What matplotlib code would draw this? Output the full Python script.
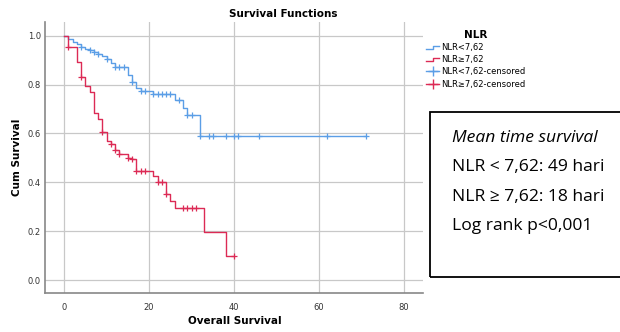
import numpy as np
import matplotlib
matplotlib.use("Agg")
import matplotlib.pyplot as plt
from matplotlib.lines import Line2D
from matplotlib.patches import Rectangle
from matplotlib.legend_handler import HandlerBase

# --- data ---
# NLR < 7,62 : step times and survival after each step
low_t = [0, 1, 2, 3, 4, 5, 6, 7, 8, 9, 10, 11, 12, 15, 16, 17, 18, 21, 26, 28, 29, 32]
low_s = [1.0, 0.985, 0.975, 0.965, 0.955, 0.946, 0.94, 0.933, 0.925, 0.915, 0.905,
         0.89, 0.87, 0.838, 0.81, 0.787, 0.775, 0.76, 0.735, 0.705, 0.675, 0.588]
low_end = 71
low_cens = [4, 6, 7, 8, 10, 12, 13, 14, 16, 18, 19, 21, 22, 23, 24, 25, 27, 29, 30,
            32, 34, 35, 38, 40, 41, 46, 62, 71]

# NLR >= 7,62
high_t = [0, 1, 3, 4, 5, 6, 7, 8, 9, 10, 11, 12, 13, 15, 16, 17, 21, 22, 24, 25, 26, 33, 38]
high_s = [1.0, 0.952, 0.892, 0.832, 0.794, 0.768, 0.682, 0.658, 0.607, 0.569, 0.557,
          0.532, 0.516, 0.50, 0.494, 0.447, 0.426, 0.402, 0.352, 0.323, 0.293, 0.198, 0.098]
high_end = 40
high_cens = [1, 4, 9, 11, 12, 13, 15, 16, 17, 18, 19, 22, 23, 24, 28, 29, 30, 31, 40]

xticks = [0, 20, 40, 60, 80]
yticks = [0.0, 0.2, 0.4, 0.6, 0.8, 1.0]
legend_labels = ["NLR<7,62", "NLR\u22657,62", "NLR<7,62-censored", "NLR\u22657,62-censored"]

BLUE = "#5b9ee6"
RED = "#dc2a55"


def surv_at(times, surv, x):
    # value of the step function right at time x
    idx = np.searchsorted(times, x, side="right") - 1
    return np.array(surv)[idx]


class StepHandler(HandlerBase):
    # little step shaped icon like SPSS uses
    def create_artists(self, legend, orig, xd, yd, w, h, fontsize, trans):
        xs = [xd, xd + w * 0.55, xd + w * 0.55, xd + w]
        ys = [yd + h * 0.25, yd + h * 0.25, yd + h * 0.75, yd + h * 0.75]
        ln = Line2D(xs, ys, color=orig.get_color(), lw=1, transform=trans)
        return [ln]


fig = plt.figure(figsize=(6.2, 3.32), dpi=100)
ax = fig.add_axes([45 / 620, 1 - 293 / 332, (423 - 45) / 620, (293 - 22) / 332])

ax.step(low_t + [low_end], low_s + [low_s[-1]], where="post", color=BLUE, lw=1)
ax.step(high_t + [high_end], high_s + [high_s[-1]], where="post", color=RED, lw=1)
ax.plot(low_cens, surv_at(low_t, low_s, low_cens), "+", color=BLUE, ms=5, mew=0.9)
ax.plot(high_cens, surv_at(high_t, high_s, high_cens), "+", color=RED, ms=5, mew=0.9)

ax.set_xlim(-4.5, 84.5)
ax.set_ylim(-0.053, 1.056)
ax.set_xticks(xticks)
ax.set_yticks(yticks)
ax.set_xticklabels([str(v) for v in xticks])
ax.set_yticklabels([f"{v:.1f}" for v in yticks])
ax.tick_params(length=0, labelsize=6, colors="#333333")
ax.tick_params(axis="x", pad=7)
ax.tick_params(axis="y", pad=3)
ax.grid(True, color="#c8c8c8", lw=0.9)
ax.set_axisbelow(True)
for side in ["top", "right"]:
    ax.spines[side].set_visible(False)
for side in ["left", "bottom"]:
    ax.spines[side].set_color("#888888")
    ax.spines[side].set_linewidth(1.2)

fig.text(283 / 620, 1 - 14 / 332, "Survival Functions", ha="center", va="center",
         fontsize=7.5, fontweight="bold")
fig.text(235 / 620, 1 - 321 / 332, "Overall Survival", ha="center", va="center",
         fontsize=7.5, fontweight="bold")
fig.text(17 / 620, 1 - 157 / 332, "Cum Survival", ha="center", va="center",
         fontsize=7.5, fontweight="bold", rotation=90)

# legend
handles = [Line2D([], [], color=BLUE), Line2D([], [], color=RED),
           Line2D([], [], color=BLUE, marker="+", ms=7, lw=1),
           Line2D([], [], color=RED, marker="+", ms=7, lw=1)]
hmap = {handles[0]: StepHandler(), handles[1]: StepHandler()}
leg = fig.legend(handles, legend_labels, handler_map=hmap, loc="upper left",
                 bbox_to_anchor=(420 / 620, 1 - 24 / 332), frameon=False,
                 fontsize=6, title="NLR", title_fontproperties={"size": 7.5, "weight": "bold"},
                 handlelength=1.6, handletextpad=0.2, labelspacing=0.38, borderpad=0.2)

# info box
fig.patches.append(Rectangle((430 / 620, 1 - 277 / 332), 200 / 620, 165 / 332,
                             transform=fig.transFigure, fill=False, ec="black", lw=1.3))
box_lines = [("Mean time survival", "italic"), ("NLR < 7,62: 49 hari", "normal"),
             ("NLR \u2265 7,62: 18 hari", "normal"), ("Log rank p<0,001", "normal")]
for i, (txt, style) in enumerate(box_lines):
    fig.text(452 / 620, 1 - (138 + 29.5 * i) / 332, txt, ha="left", va="center",
             fontsize=12.6, style=style, family="Open Sans")

fig.savefig("out.png", dpi=100)
